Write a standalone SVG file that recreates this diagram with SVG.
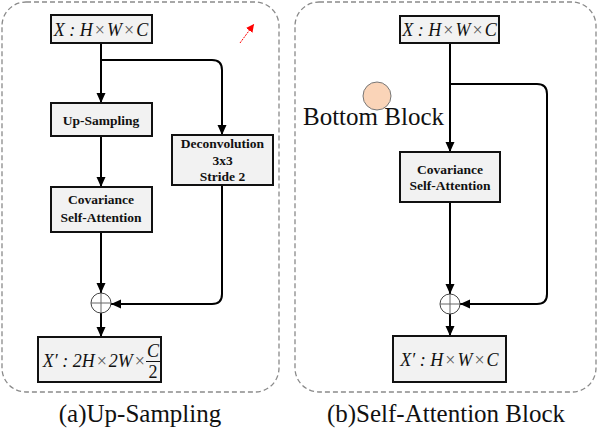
<svg xmlns="http://www.w3.org/2000/svg" width="598" height="430" viewBox="0 0 598 430">
<style>
.panel{fill:none;stroke:#8a8a8a;stroke-width:1.3;stroke-dasharray:5,3}
.box{fill:#f2f2f2;stroke:#111;stroke-width:2}
.lbl{font-family:'Liberation Serif','Times New Roman',Times,serif;font-weight:bold;font-size:13.5px;fill:#111;text-anchor:middle}
.math{font-family:'Liberation Serif','Times New Roman',Times,serif;font-style:italic;font-size:18px;fill:#111}
.op{font-style:normal;fill:#555}
.cap{font-family:'Liberation Serif','Times New Roman',Times,serif;font-size:25px;fill:#111;text-anchor:middle}
.conn path{fill:none;stroke:#000;stroke-width:2}
.sum{fill:#fff;stroke:#444;stroke-width:1}
.plus{stroke:#666;stroke-width:1}
</style>
<defs>
<marker id="ah" markerUnits="userSpaceOnUse" markerWidth="10" markerHeight="10" viewBox="0 0 10 10" refX="10" refY="5" orient="auto">
<path d="M0,0.5 L10,5 L0,9.5 Z" fill="#000"/>
</marker>
<marker id="ahr" markerUnits="userSpaceOnUse" markerWidth="8" markerHeight="8" viewBox="0 0 10 10" refX="10" refY="5" orient="auto">
<path d="M0,0 L10,5 L0,10 Z" fill="#f00"/>
</marker>
</defs>

<rect class="panel" x="2" y="2" width="277" height="390" rx="24"/>
<rect class="panel" x="295" y="2" width="301" height="390" rx="24"/>

<g class="conn">
<path d="M101,43 V103" marker-end="url(#ah)"/>
<path d="M101,60 H212 Q222,60 222,70 V135" marker-end="url(#ah)"/>
<path d="M101,136 V187" marker-end="url(#ah)"/>
<path d="M101,232 V293" marker-end="url(#ah)"/>
<path d="M222,185 V294 Q222,304 212,304 H111" marker-end="url(#ah)"/>
<path d="M101,313 V337" marker-end="url(#ah)"/>
<path d="M450,43 V152" marker-end="url(#ah)"/>
<path d="M450,84 H537 Q547,84 547,94 V294 Q547,304 537,304 H460" marker-end="url(#ah)"/>
<path d="M450,202 V294" marker-end="url(#ah)"/>
<path d="M450,314 V336" marker-end="url(#ah)"/>
<path d="M240,43 L254,24" style="stroke:#f00;stroke-width:1;stroke-dasharray:2,1" marker-end="url(#ahr)"/>
</g>

<g id="a-input">
<rect class="box" x="51" y="15" width="101" height="28"/>
<text class="math" x="101" y="35.5" text-anchor="middle">X : H<tspan class="op" dx="2">×</tspan><tspan dx="2">W</tspan><tspan class="op" dx="2">×</tspan><tspan dx="2">C</tspan></text>
</g>
<g id="a-upsampling">
<rect class="box" x="51" y="103" width="101" height="33"/>
<text class="lbl" x="101" y="124.5">Up-Sampling</text>
</g>
<g id="a-deconv">
<rect class="box" x="172" y="135" width="101" height="50"/>
<text class="lbl" x="222.5" y="148">Deconvolution</text>
<text class="lbl" x="222.5" y="164.5">3x3</text>
<text class="lbl" x="222.5" y="181">Stride 2</text>
</g>
<g id="a-csa">
<rect class="box" x="51" y="187" width="101" height="45"/>
<text class="lbl" x="101" y="204">Covariance</text>
<text class="lbl" x="101" y="222">Self-Attention</text>
</g>
<g id="a-sum">
<circle class="sum" cx="101" cy="303" r="10"/>
<path class="plus" d="M91,303 H111 M101,293 V313"/>
</g>
<g id="a-output">
<rect class="box" x="38" y="337" width="123" height="45"/>
<text class="math" x="145" y="367" text-anchor="end">X′ : 2H<tspan class="op" dx="2">×</tspan><tspan dx="2">2W</tspan><tspan class="op" dx="2">×</tspan></text>
<text class="math" x="153" y="357" text-anchor="middle">C</text>
<line x1="146" y1="361.5" x2="160" y2="361.5" stroke="#111" stroke-width="1"/>
<text class="math" x="153" y="378" text-anchor="middle" style="font-style:normal">2</text>
</g>
<text class="cap" x="140" y="422">(a)Up-Sampling</text>

<g id="b-input">
<rect class="box" x="400" y="16" width="99" height="27"/>
<text class="math" x="449.5" y="36" text-anchor="middle">X : H<tspan class="op" dx="2">×</tspan><tspan dx="2">W</tspan><tspan class="op" dx="2">×</tspan><tspan dx="2">C</tspan></text>
</g>
<g id="b-csa">
<rect class="box" x="400" y="152" width="100" height="50"/>
<text class="lbl" x="450" y="173.5">Covariance</text>
<text class="lbl" x="450" y="190">Self-Attention</text>
</g>
<g id="b-sum">
<circle class="sum" cx="450" cy="304" r="10"/>
<path class="plus" d="M440,304 H460 M450,294 V314"/>
</g>
<g id="b-output">
<rect class="box" x="393" y="336" width="113" height="46"/>
<text class="math" x="449.5" y="365.5" text-anchor="middle">X′ : H<tspan class="op" dx="2">×</tspan><tspan dx="2">W</tspan><tspan class="op" dx="2">×</tspan><tspan dx="2">C</tspan></text>
</g>
<g id="bottom-block">
<circle cx="377" cy="96" r="14" fill="#fad4b8" stroke="#777" stroke-width="1"/>
<text x="303" y="125" style="font-family:'Liberation Serif','Times New Roman',Times,serif;font-size:25px;fill:#111">Bottom Block</text>
</g>
<text class="cap" x="446" y="422">(b)Self-Attention Block</text>
</svg>
